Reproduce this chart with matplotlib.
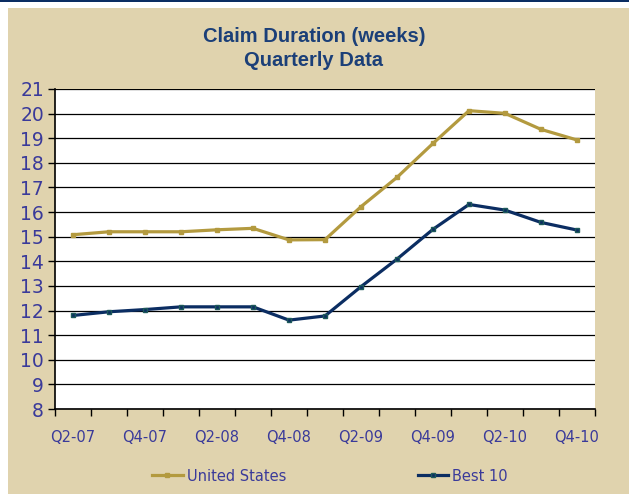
import matplotlib.pyplot as plt
from matplotlib.patches import Rectangle
import numpy as np

quarters = ["Q2-07", "Q3-07", "Q4-07", "Q1-08", "Q2-08", "Q3-08", "Q4-08", "Q1-09",
            "Q2-09", "Q3-09", "Q4-09", "Q1-10", "Q2-10", "Q3-10", "Q4-10"]
us = [15.08, 15.2, 15.2, 15.2, 15.28, 15.34, 14.87, 14.88, 16.22, 17.41, 18.79, 20.12, 20.01, 19.36, 18.93]
best10 = [11.8, 11.95, 12.04, 12.15, 12.15, 12.15, 11.61, 11.78, 12.97, 14.09, 15.3, 16.31, 16.08, 15.58, 15.27]

tan = "#E0D3AE"
navy = "#0B2D62"
gold = "#B39A3F"
label_col = "#3A3A9A"
title_col = "#1B3F78"

fig = plt.figure(figsize=(6.29, 4.94), dpi=100, facecolor="white")
# tan panel with a navy rule along the top
fig.patches.append(Rectangle((8 / 629, 0), 1, 486 / 494, transform=fig.transFigure,
                             facecolor=tan, edgecolor="none", zorder=-2))
fig.patches.append(Rectangle((0, 492 / 494), 1, 2 / 494, transform=fig.transFigure,
                             facecolor=navy, edgecolor="none", zorder=-1))

ax = fig.add_axes([55 / 629, 85 / 494, 540 / 629, 320 / 494])
ax.set_facecolor("white")

x = np.arange(len(quarters))
ax.plot(x, us, color=gold, lw=2.3, marker="s", ms=2.5, label="United States")
ax.plot(x, best10, color=navy, lw=2.3, marker="s", ms=3, mfc=navy, mec="#1E5A5A",
        label="Best 10")

ax.set_ylim(8, 21)
ax.set_yticks(range(8, 22))
ax.set_xlim(-0.5, len(quarters) - 0.5)
ax.set_xticks(np.arange(-0.5, len(quarters)), minor=False)
ax.set_xticklabels([])
ax.set_xticks(x[::2], minor=True)
ax.set_xticklabels(quarters[::2], minor=True)
ax.tick_params(axis="x", which="major", direction="out", length=5, width=1, color="black")
ax.tick_params(axis="x", which="minor", length=0, pad=15, labelsize=10.5, labelcolor=label_col)
ax.tick_params(axis="y", direction="out", length=5, width=1, labelsize=13.5,
               labelcolor=label_col, pad=3)

ax.grid(axis="y", color="black", lw=0.9)
ax.set_axisbelow(True)
for s in ["top", "right"]:
    ax.spines[s].set_visible(False)
ax.spines["left"].set_linewidth(1.2)
ax.spines["bottom"].set_linewidth(1.2)

fig.text(314 / 629, 1 - 36 / 494, "Claim Duration (weeks)", ha="center", va="center",
         fontsize=14.5, fontweight="bold", color=title_col, family="Liberation Sans")
fig.text(314 / 629, 1 - 61 / 494, "Quarterly Data", ha="center", va="center",
         fontsize=14.5, fontweight="bold", color=title_col, family="Liberation Sans")

leg = fig.legend(loc="center", bbox_to_anchor=(330 / 629, 1 - 476 / 494), ncol=2,
                 frameon=False, fontsize=10.5, handlelength=2.1, handletextpad=0.3,
                 columnspacing=9)
for t in leg.get_texts():
    t.set_color(label_col)

fig.savefig("out.png", dpi=100, facecolor=fig.get_facecolor())
